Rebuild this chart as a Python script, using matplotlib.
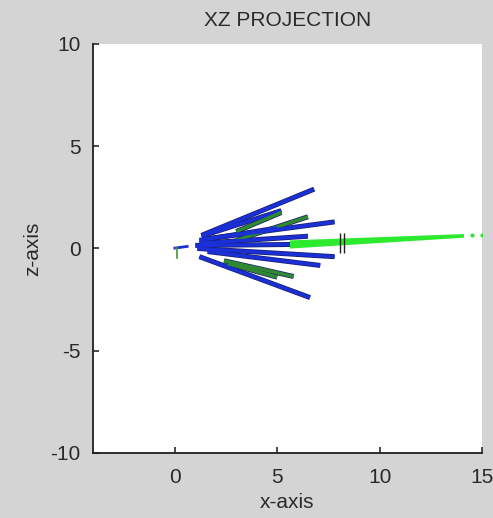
import matplotlib
matplotlib.use("Agg")
import matplotlib.pyplot as plt
import numpy as np

plt.rcParams["axes.unicode_minus"] = False

# Fan of tracks in the XZ plane: start (x0, z0) -> end (x1, z1)
ray_x0 = [1.3, 1.3, 3.0, 3.0, 1.4, 1.2, 1.0, 1.1, 1.6, 2.4, 2.6, 1.2, 1.2]
ray_z0 = [0.64, 0.60, 0.83, 0.40, 0.45, 0.25, 0.15, 0.00, -0.15, -0.60, -0.75, -0.40, 0.40]
ray_x1 = [6.8, 5.2, 5.2, 6.5, 7.8, 6.5, 6.2, 7.8, 7.1, 5.8, 5.0, 6.6, 5.0]
ray_z1 = [2.90, 1.85, 1.76, 1.55, 1.30, 0.60, 0.20, -0.40, -0.83, -1.37, -1.40, -2.40, 1.00]
ray_color = ["#1a2fd6", "#1a2fd6", "#2f8a2f", "#2f8a2f", "#1a2fd6", "#1a2fd6",
             "#1a2fd6", "#1a2fd6", "#1a2fd6", "#2f8a2f", "#2f8a2f", "#1a2fd6", "#1a2fd6"]

# Bright green beam: centerline and half-thickness at its two ends
beam_x = [5.6, 14.1]
beam_z = [0.22, 0.64]
beam_half = [0.20, 0.09]
beam_dots_x = [14.5, 15.0]
beam_dots_z = [0.66, 0.66]

# Short segments near the origin
origin_blue_x = [0.0, 0.6]
origin_blue_z = [0.02, 0.10]
origin_green_x = [0.05, 0.1, 0.1, 0.1]
origin_green_z = [0.02, 0.02, 0.02, -0.45]

# Black marker on the beam
marker_x = [8.05, 8.25]
marker_z = [0.27, 0.27]

bg = "#d4d4d4"
fig = plt.figure(figsize=(4.93, 5.18), dpi=100, facecolor=bg)
ax = fig.add_axes([0.1886, 0.1255, 0.789, 0.7896])
ax.set_facecolor("white")

for x0, z0, x1, z1, c in zip(ray_x0, ray_z0, ray_x1, ray_z1, ray_color):
    ax.plot([x0, x1], [z0, z1], color="#18206e", lw=3.6, solid_capstyle="butt", zorder=2)
    ax.plot([x0, x1], [z0, z1], color=c, lw=2.5, solid_capstyle="butt", zorder=3)

bx = np.array(beam_x)
bz = np.array(beam_z)
bh = np.array(beam_half)
ax.fill_between(bx, bz - bh, bz + bh, color="#2eea2e", lw=0, zorder=4)
ax.plot(beam_dots_x, beam_dots_z, "o", color="#2eea2e", ms=3, mec="none", zorder=4)

ax.plot(origin_blue_x, origin_blue_z, color="#1a2fd6", lw=2, zorder=3)
ax.plot(origin_green_x, origin_green_z, color="#3a9a3a", lw=1.2, zorder=3)

ax.plot(marker_x, marker_z, "|", color="#202020", ms=14, mew=1.0, zorder=5)

ax.set_xlim(-4, 15)
ax.set_ylim(-10, 10)
ax.set_xticks([0, 5, 10, 15])
ax.set_yticks([-10, -5, 0, 5, 10])

for s in ["top", "right"]:
    ax.spines[s].set_visible(False)
for s in ["left", "bottom"]:
    ax.spines[s].set_linewidth(1.3)
    ax.spines[s].set_color("#202020")

font = "Liberation Sans"
fs = 15
ax.tick_params(direction="in", length=4, width=1.2, labelsize=fs, colors="#2a2a2a")
ax.tick_params(axis="x", pad=11)
ax.tick_params(axis="y", pad=9)
for lab in ax.get_xticklabels() + ax.get_yticklabels():
    lab.set_family(font)

ax.set_title("XZ PROJECTION", fontsize=fs, family=font, color="#2a2a2a", pad=13)
ax.set_xlabel("x-axis", fontsize=fs, family=font, color="#2a2a2a", labelpad=4)
ax.set_ylabel("z-axis", fontsize=fs, family=font, color="#2a2a2a", labelpad=6)

fig.savefig("out.png", dpi=100, facecolor=bg)
